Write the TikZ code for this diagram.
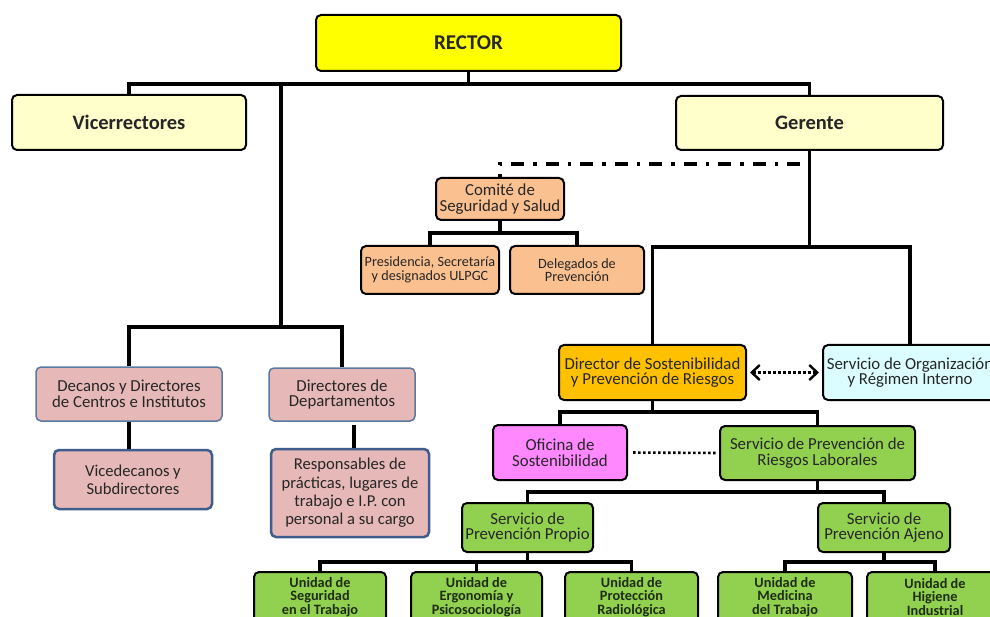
\documentclass[tikz,border=0pt]{standalone}
\usepackage{fontspec}
\setmainfont{Carlito}
\usetikzlibrary{arrows.meta}
\definecolor{cyel}{HTML}{FFFF00}
\definecolor{clyel}{HTML}{FFFFCC}
\definecolor{cpeach}{HTML}{FAC090}
\definecolor{cpink}{HTML}{E6B9B8}
\definecolor{cgold}{HTML}{FFC000}
\definecolor{ccyan}{HTML}{DCFDFF}
\definecolor{cmag}{HTML}{FF88FF}
\definecolor{cgreen}{HTML}{92D050}
\definecolor{cblue}{HTML}{5A7AA3}
\definecolor{cdblue}{HTML}{3E5D8C}
\definecolor{ctxt}{HTML}{262626}
\definecolor{cgtxt}{HTML}{1E2E14}
\tikzset{
  box/.style={draw=black, line width=2pt, rounded corners=5pt, align=center, inner sep=0pt, text=ctxt},
  pinkbox/.style={box, draw=cblue, line width=1.5pt, fill=cpink},
  pinkbox2/.style={box, draw=cdblue, line width=2.5pt, fill=cpink},
  conn/.style={line width=3.6pt, draw=black},
  fA/.style={font=\fontsize{16.8}{15.5}\selectfont},
  fB/.style={font=\fontsize{16.6}{18.3}\selectfont},
  fS/.style={font=\fontsize{14.2}{13.5}\selectfont},
  fU/.style={font=\fontsize{14.3}{13.4}\selectfont\bfseries, text=cgtxt},
}
\begin{document}
\begin{tikzpicture}[x=1pt,y=-1pt]
\useasboundingbox (0,0) rectangle (990,617);
\clip (0,0) rectangle (990,617);
% top
\node[box, fill=cyel, minimum width=305pt, minimum height=56pt, font=\fontsize{21}{23}\selectfont\bfseries] (rector) at (468.5,43) {RECTOR};
\node[box, fill=clyel, minimum width=234pt, minimum height=55pt, font=\fontsize{20.5}{22}\selectfont\bfseries] (vice) at (129,122.5) {Vicerrectores};
\node[box, fill=clyel, minimum width=267pt, minimum height=54pt, font=\fontsize{20.5}{22}\selectfont\bfseries] (gerente) at (809.5,123) {Gerente};
% committee
\node[box, fill=cpeach, minimum width=128pt, minimum height=42pt, fA] (comite) at (500,199) {Comité de\\Seguridad y Salud};
\node[box, fill=cpeach, minimum width=138pt, minimum height=48pt, fS] (pres) at (430,270) {Presidencia, Secretaría\\y designados ULPGC};
\node[box, fill=cpeach, minimum width=134pt, minimum height=48pt, fS] (deleg) at (577,270) {Delegados de\\Prevención};
% left branch
\node[pinkbox, minimum width=186pt, minimum height=54pt, fA] (decanos) at (129,394) {Decanos y Directores\\de Centros e Institutos};
\node[pinkbox, minimum width=146pt, minimum height=53pt, fA] (direct) at (342,394.5) {Directores de\\Departamentos};
\node[pinkbox2, minimum width=158pt, minimum height=59pt, fB] (vicedec) at (133,479.5) {Vicedecanos y\\Subdirectores};
\node[pinkbox2, minimum width=158pt, minimum height=88pt, fB] (resp) at (350,493) {Responsables de\\prácticas, lugares de\\trabajo e I.P. con\\personal a su cargo};
% right branch
\node[box, fill=cgold, minimum width=187pt, minimum height=55pt, fA] (director) at (652.5,372.5) {Director de Sostenibilidad\\y Prevención de Riesgos};
\node[box, fill=ccyan, minimum width=174pt, minimum height=55pt, fA] (servorg) at (910,372.5) {Servicio de Organización\\y Régimen Interno};
\node[box, fill=cmag, minimum width=134pt, minimum height=55pt, fA] (oficina) at (560,452.5) {Oficina de\\Sostenibilidad};
\node[box, fill=cgreen, minimum width=195pt, minimum height=54pt, fA] (sprl) at (817.5,453) {Servicio de Prevención de\\Riesgos Laborales};
\node[box, fill=cgreen, minimum width=131pt, minimum height=49pt, fA] (propio) at (527.5,527.5) {Servicio de\\Prevención Propio};
\node[box, fill=cgreen, minimum width=132pt, minimum height=49pt, fA] (ajeno) at (884,527.5) {Servicio de\\Prevención Ajeno};
% units
\node[box, fill=cgreen, minimum width=132pt, minimum height=50pt, fU] (u1) at (320,597) {Unidad de\\Seguridad\\en el Trabajo};
\node[box, fill=cgreen, minimum width=131pt, minimum height=50pt, fU] (u2) at (476.5,597) {Unidad de\\Ergonomía y\\Psicosociología};
\node[box, fill=cgreen, minimum width=133pt, minimum height=50pt, fU] (u3) at (631.5,597) {Unidad de\\Protección\\Radiológica};
\node[box, fill=cgreen, minimum width=134pt, minimum height=50pt, fU] (u4) at (785,597) {Unidad de\\Medicina\\del Trabajo};
\node[box, fill=cgreen, minimum width=136pt, minimum height=50pt, fU] (u5) at (935,597) {Unidad de\\Higiene\\Industrial};
% junction coordinates
\coordinate (rbar) at (468.5,84);
\coordinate (j1) at (281,84);
\coordinate (j2) at (281,327);
\coordinate (gj) at (809.5,247);
\coordinate (dd) at (800,164);
\coordinate (cj) at (500,233);
\coordinate (dj) at (652.5,412);
\coordinate (sj) at (817.5,492);
\coordinate (pj) at (527.5,562);
\coordinate (aj) at (884,562);
% connectors
\draw[conn] (rector.south) -- (rbar);
\draw[conn] (vice.north) |- (gerente.north |- rbar) -- (gerente.north);
\draw[conn] (j1) -- (j2);
\draw[conn] (decanos.north) |- (direct.north |- j2) -- (direct.north);
\draw[conn] (decanos.south) -- (decanos.south |- vicedec.north);
\draw[conn] ([yshift=-3pt]direct.south -| 354,0) -- (354,0 |- resp.north);
\draw[conn] (gerente.south) -- (gj);
\draw[conn] (director.north) |- (servorg.north |- gj) -- (servorg.north);
\draw[line width=3.4pt, dash pattern=on 13pt off 9pt on 3.5pt off 9pt] (dd) -| (comite.north);
\draw[conn] (comite.south) -- (cj);
\draw[conn] (pres.north) |- (deleg.north |- cj) -- (deleg.north);
\draw[conn] (director.south) -- (dj);
\draw[conn] (oficina.north) |- (sprl.north |- dj) -- (sprl.north);
\draw[line width=2.6pt, dash pattern=on 2.6pt off 2.4pt, {Straight Barb[length=8pt,width=15pt,line width=2.4pt]}-{Straight Barb[length=8pt,width=15pt,line width=2.4pt]}, shorten <=3pt, shorten >=3pt] (director.east) -- (servorg.west);
\draw[line width=2.6pt, dash pattern=on 2.6pt off 2.4pt, shorten <=5pt, shorten >=2pt] (oficina.east) -- (sprl.west);
\draw[conn] (sprl.south) -- (sj);
\draw[conn] (propio.north) |- (ajeno.north |- sj) -- (ajeno.north);
\draw[conn] (propio.south) -- (pj);
\draw[conn] (u1.north) |- (u3.north |- pj) -- (u3.north);
\draw[conn] (u2.north) -- (u2.north |- pj);
\draw[conn] (ajeno.south) -- (aj);
\draw[conn] (u4.north) |- (u5.north |- aj) -- (u5.north);
\end{tikzpicture}
\end{document}
